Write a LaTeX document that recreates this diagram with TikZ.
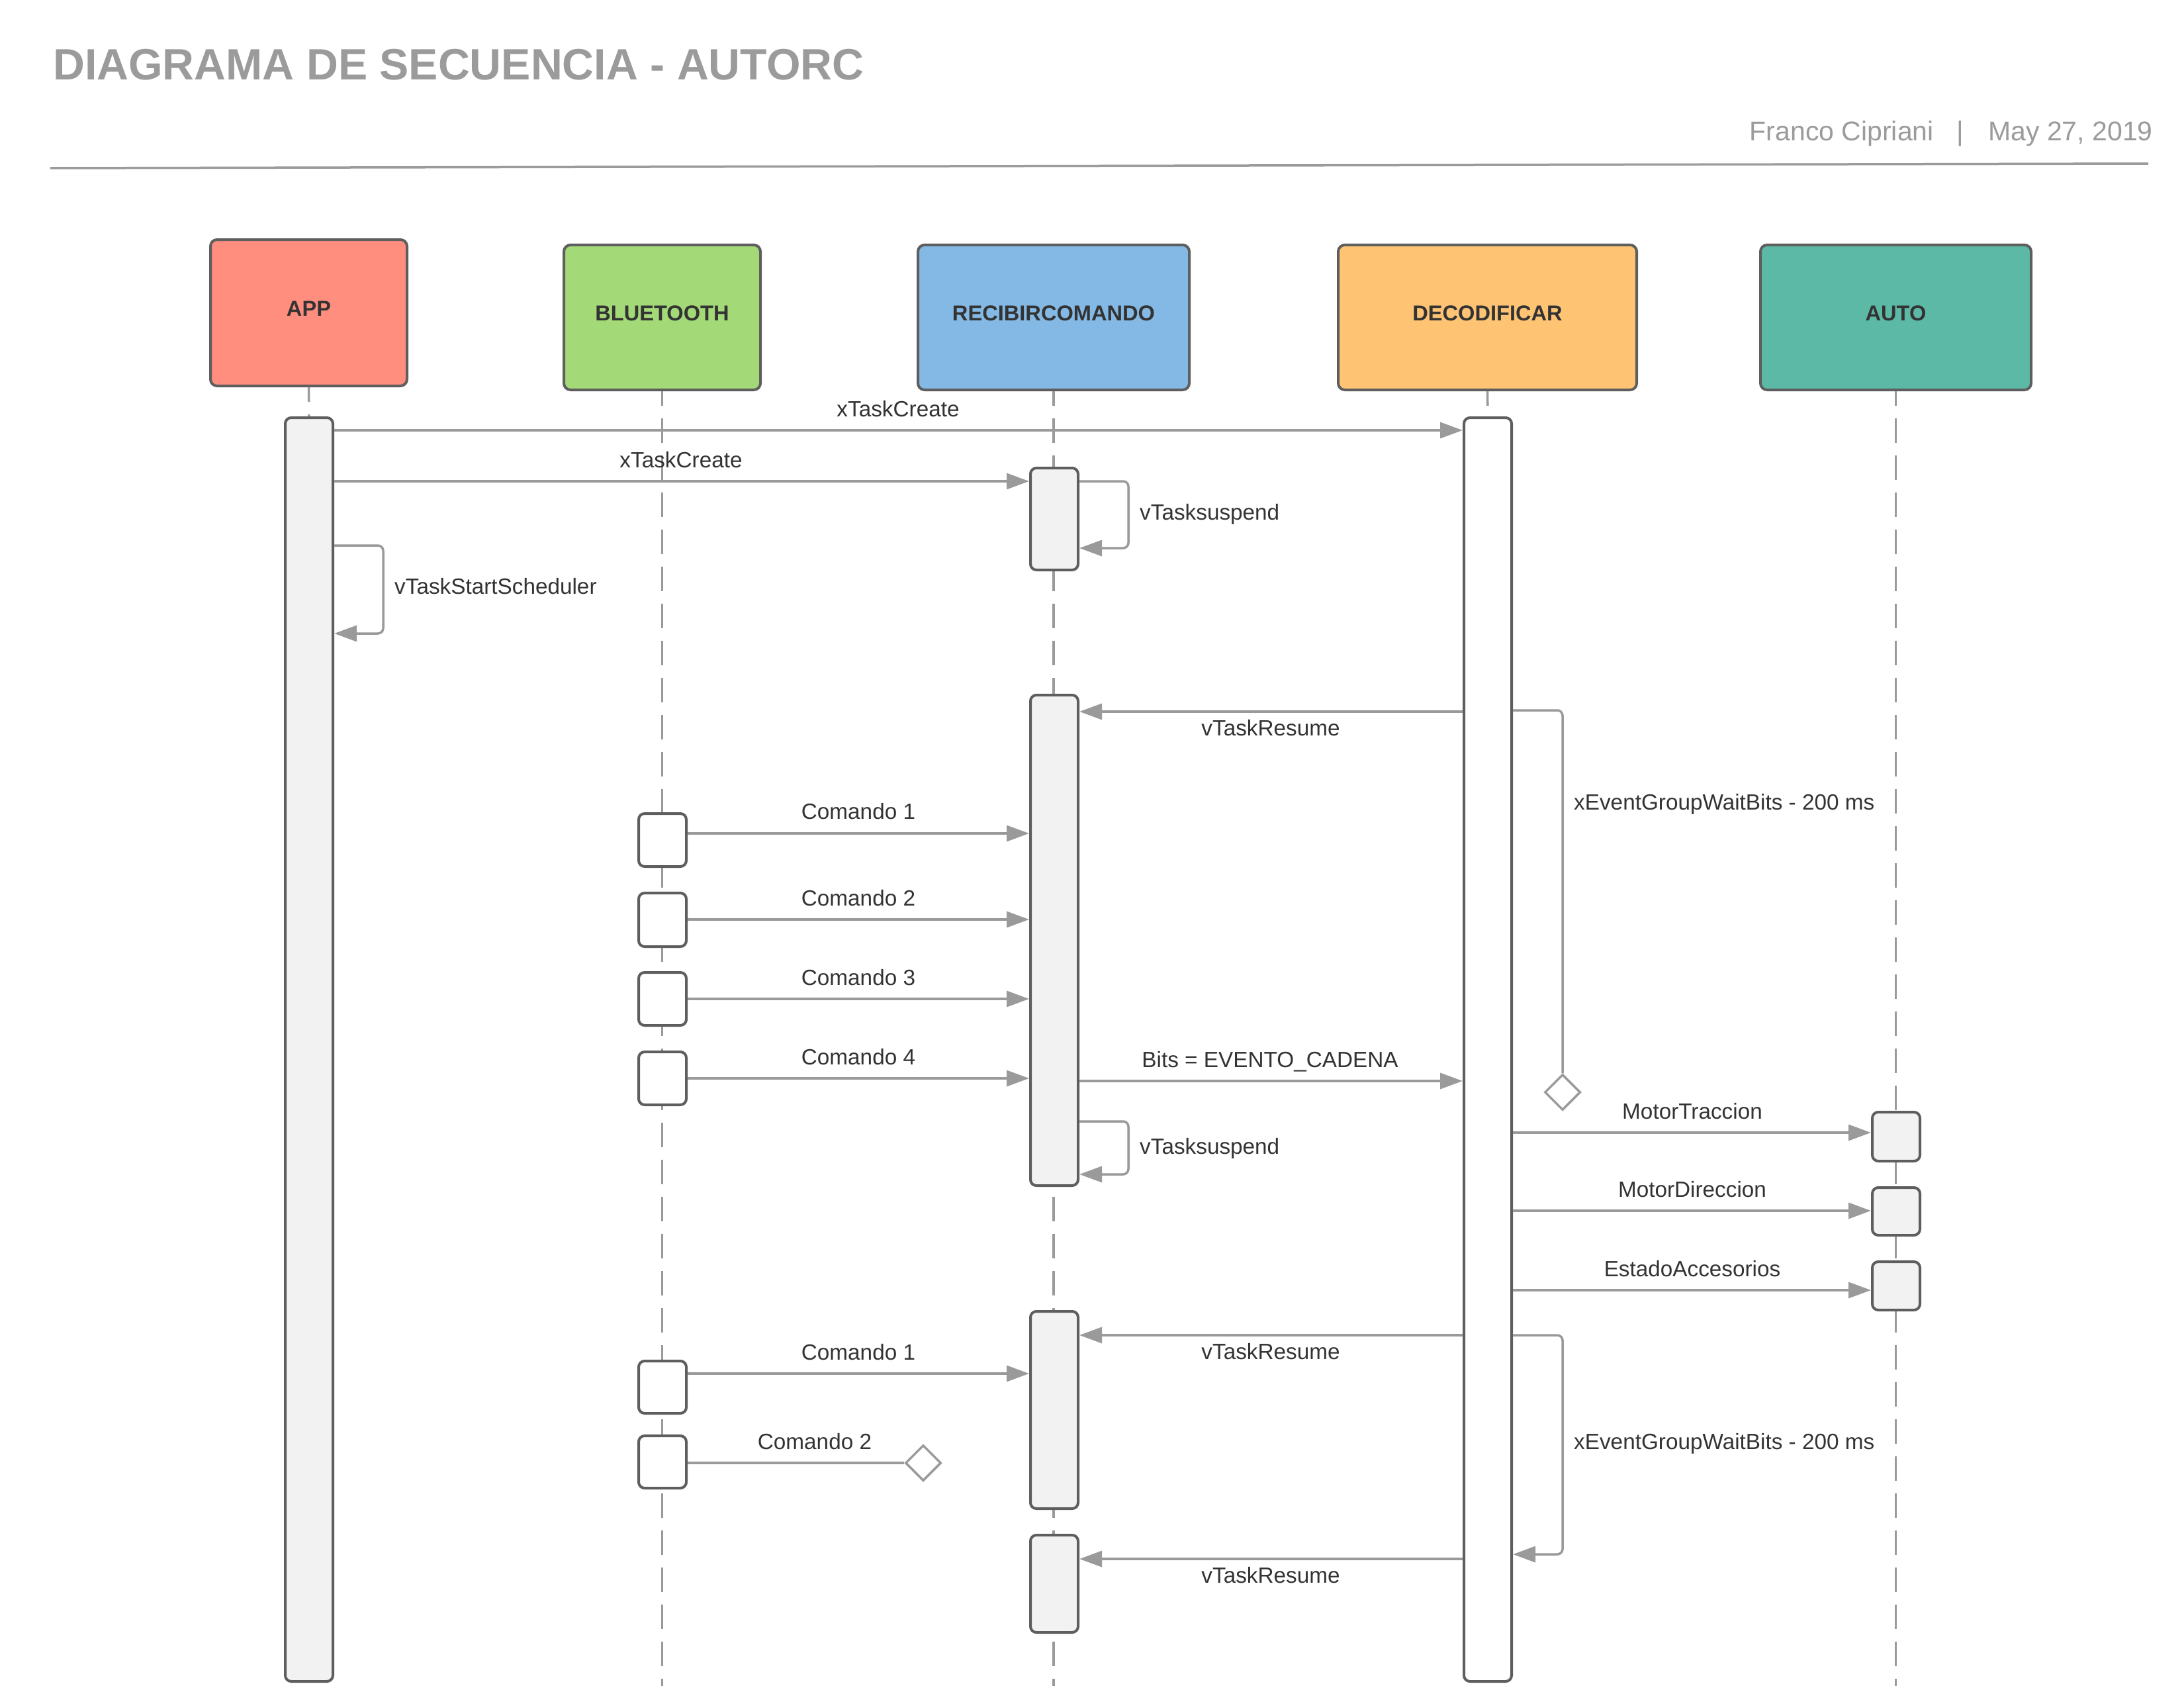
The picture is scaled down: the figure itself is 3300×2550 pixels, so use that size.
\documentclass[tikz,border=0pt]{standalone}
\usepackage{fontspec}
\setmainfont{Liberation Sans}
\usetikzlibrary{arrows.meta,shapes.geometric}
\definecolor{appc}{HTML}{FF8E7F}
\definecolor{btc}{HTML}{A3D977}
\definecolor{recc}{HTML}{83B9E4}
\definecolor{decc}{HTML}{FFC374}
\definecolor{autoc}{HTML}{5CB9A6}
\definecolor{bordc}{HTML}{5E5E5E}
\definecolor{actc}{HTML}{F2F2F2}
\definecolor{linec}{HTML}{9A9A9A}
\definecolor{txtc}{HTML}{333333}
\definecolor{titc}{HTML}{9B9B9B}
\newcommand\lblfont{\fontsize{33.3}{40}\selectfont}
\begin{document}
\begin{tikzpicture}[x=1pt,y=-1pt,
  head/.style={draw=bordc, line width=4pt, rounded corners=10pt, inner sep=0pt,
    font=\fontsize{32.6}{38}\selectfont\bfseries, text=txtc, text depth=12pt},
  act/.style={draw=bordc, fill=actc, line width=4pt, rounded corners=9pt,
    minimum width=72pt, inner sep=0pt},
  lifeline/.style={draw=linec, line width=3.5pt, dash pattern=on 37pt off 19pt, dash phase=15pt},
  msg/.style={draw=linec, line width=3.5pt, -{Triangle[length=34pt,width=24pt]}},
  loopmsg/.style={msg, rounded corners=8pt},
  conn/.style={draw=linec, line width=3.5pt},
  lbl/.style={font=\lblfont, text=txtc, inner sep=0pt},
  waitd/.style={diamond, draw=linec, fill=white, line width=3.5pt, minimum width=54pt,
    minimum height=54pt, inner sep=0pt}
]
\useasboundingbox (0,0) rectangle (3300,2550);

% title area
\node[anchor=base west, inner sep=0pt, text=titc, font=\fontsize{66.3}{78}\selectfont\bfseries] (title) at (80,121) {DIAGRAMA DE SECUENCIA - AUTORC};
\node[anchor=base east, inner sep=0pt, text=titc, font=\fontsize{41}{49}\selectfont] (author) at (2922,213) {Franco Cipriani};
\node[anchor=base, inner sep=0pt, text=titc, font=\fontsize{41}{49}\selectfont] (sep) at (2962,213) {|};
\node[anchor=base west, inner sep=0pt, text=titc, font=\fontsize{41}{49}\selectfont] (date) at (3004,213) {May 27, 2019};
\coordinate (rl) at (76,254);
\coordinate (rr) at (3246,247);
\draw[draw=titc, line width=3.5pt] (rl) -- (rr);

% heads
\node[head, fill=appc, minimum width=297pt, minimum height=221pt] (app) at (466.5,472.5) {APP};
\node[head, fill=btc, minimum width=297pt, minimum height=219pt] (bt) at (1000.5,479.5) {BLUETOOTH};
\node[head, fill=recc, minimum width=410pt, minimum height=219pt] (rec) at (1592,479.5) {RECIBIRCOMANDO};
\node[head, fill=decc, minimum width=451pt, minimum height=219pt] (dec) at (2247.5,479.5) {DECODIFICAR};
\node[head, fill=autoc, minimum width=409pt, minimum height=219pt] (auto) at (2864.5,479.5) {AUTO};

% activation boxes (spanning ones first, for lifeline ends)
\node[act, minimum height=1909pt] (appact) at (467,1585.5) {};
\node[act, fill=white, minimum height=1909pt] (decact) at (2248,1585.5) {};

% lifelines
\coordinate (btend) at (1000.5,2547);
\coordinate (recend) at (1592,2547);
\coordinate (autoend) at (2864.5,2547);
\draw[lifeline] (app.south) -- (appact.north);
\draw[lifeline] (bt.south) -- (btend);
\draw[lifeline] (rec.south) -- (recend);
\draw[lifeline] (dec.south) -- (decact.north);
\draw[lifeline] (auto.south) -- (autoend);

% activation boxes
\node[act, minimum height=154pt] (rec1) at (1593,784) {};
\node[act, minimum height=741pt] (rec2) at (1593,1420.5) {};
\node[act, minimum height=298pt] (rec3) at (1593,2130) {};
\node[act, minimum height=147pt] (rec4) at (1593,2392.5) {};
\node[act, fill=white, minimum height=80pt] (bt1) at (1001,1269) {};
\node[act, fill=white, minimum height=81pt] (bt2) at (1001,1389.5) {};
\node[act, fill=white, minimum height=80pt] (bt3) at (1001,1509) {};
\node[act, fill=white, minimum height=80pt] (bt4) at (1001,1629) {};
\node[act, fill=white, minimum height=79pt] (bt5) at (1001,2095.5) {};
\node[act, fill=white, minimum height=79pt] (bt6) at (1001,2208.5) {};
\node[act, minimum height=74pt] (au1) at (2865,1717) {};
\node[act, minimum height=72pt] (au2) at (2865,1830) {};
\node[act, minimum height=73pt] (au3) at (2865,1942.5) {};

% wait diamonds
\node[waitd] (d1) at (2361,1650) {};
\node[waitd] (d2) at (1395,2210) {};

% messages
\draw[msg] (appact.east |- 0,650) -- (decact.west |- 0,650);
\node[lbl, anchor=base] (l1) at (1357,629) {xTaskCreate};

\draw[msg] (appact.east |- 0,727) -- (rec1.west |- 0,727);
\node[lbl, anchor=base] (l2) at (1029,706) {xTaskCreate};

\draw[loopmsg] (rec1.east |- 0,727) -- ++(74,0) -- ++(0,101) -- (rec1.east |- 0,828);
\node[lbl, anchor=base west] (l3) at (1722,785) {vTasksuspend};

\draw[loopmsg] (appact.east |- 0,824) -- ++(74,0) -- ++(0,133) -- (appact.east |- 0,957);
\node[lbl, anchor=base west] (l4) at (596,897) {vTaskStartScheduler};

\draw[msg] (decact.west |- 0,1075) -- (rec2.east |- 0,1075);
\node[lbl, anchor=base] (l5) at (1920,1111) {vTaskResume};

\draw[conn, rounded corners=8pt] (decact.east |- 0,1073) -- (d1.north |- 0,1073) -- (d1.north);
\node[lbl, anchor=base west] (l6) at (2378,1223) {xEventGroupWaitBits - 200 ms};

\draw[msg] (bt1.east |- 0,1259) -- (rec2.west |- 0,1259);
\node[lbl, anchor=base] (l7) at (1297,1237) {Comando 1};
\draw[msg] (bt2.east |- 0,1389) -- (rec2.west |- 0,1389);
\node[lbl, anchor=base] (l8) at (1297,1368) {Comando 2};
\draw[msg] (bt3.east |- 0,1509) -- (rec2.west |- 0,1509);
\node[lbl, anchor=base] (l9) at (1297,1488) {Comando 3};
\draw[msg] (bt4.east |- 0,1629) -- (rec2.west |- 0,1629);
\node[lbl, anchor=base] (l10) at (1297,1608) {Comando 4};

\draw[msg] (rec2.east |- 0,1633) -- (decact.west |- 0,1633);
\node[lbl, anchor=base] (l11) at (1919,1612) {Bits = EVENTO\_CADENA};

\draw[loopmsg] (rec2.east |- 0,1694) -- ++(74,0) -- ++(0,80) -- (rec2.east |- 0,1774);
\node[lbl, anchor=base west] (l12) at (1722,1743) {vTasksuspend};

\draw[msg] (decact.east |- 0,1711) -- (au1.west |- 0,1711);
\node[lbl, anchor=base] (l13) at (2557,1690) {MotorTraccion};
\draw[msg] (decact.east |- 0,1829) -- (au2.west |- 0,1829);
\node[lbl, anchor=base] (l14) at (2557,1808) {MotorDireccion};
\draw[msg] (decact.east |- 0,1949) -- (au3.west |- 0,1949);
\node[lbl, anchor=base] (l15) at (2557,1928) {EstadoAccesorios};

\draw[msg] (decact.west |- 0,2017) -- (rec3.east |- 0,2017);
\node[lbl, anchor=base] (l16) at (1920,2053) {vTaskResume};

\draw[loopmsg] (decact.east |- 0,2017) -- ++(75,0) -- ++(0,331) -- (decact.east |- 0,2348);
\node[lbl, anchor=base west] (l17) at (2378,2189) {xEventGroupWaitBits - 200 ms};

\draw[msg] (bt5.east |- 0,2075) -- (rec3.west |- 0,2075);
\node[lbl, anchor=base] (l18) at (1297,2054) {Comando 1};

\draw[conn] (bt6.east |- d2) -- (d2.west);
\node[lbl, anchor=base] (l19) at (1231,2189) {Comando 2};

\draw[msg] (decact.west |- 0,2355) -- (rec4.east |- 0,2355);
\node[lbl, anchor=base] (l20) at (1920,2391) {vTaskResume};
\end{tikzpicture}
\end{document}
